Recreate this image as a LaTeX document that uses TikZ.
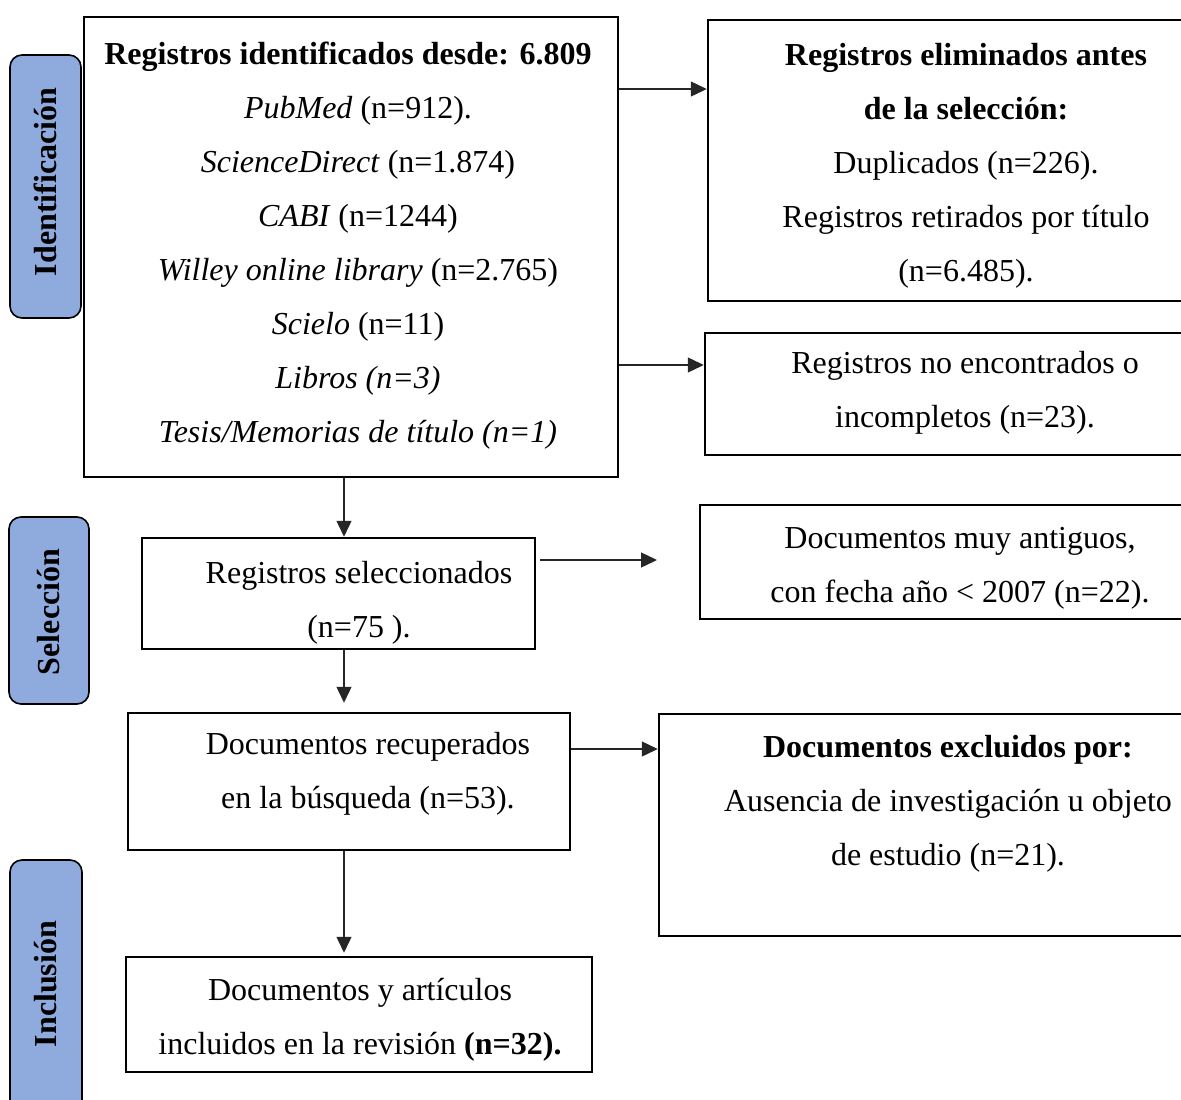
\documentclass[tikz,border=0pt]{standalone}
\usepackage{fontspec}
\setmainfont{Liberation Serif}
\usetikzlibrary{fit,arrows.meta}
\definecolor{sideblue}{HTML}{8FAADC}
\definecolor{arrowgray}{HTML}{262626}
\tikzset{
  boxnode/.style={draw=black, line width=2.5pt, inner sep=0pt, fill=white},
  sidenode/.style={draw=black, line width=1.6pt, rounded corners=12pt, fill=sideblue, inner sep=0pt},
  sidetext/.style={rotate=90, font=\fontsize{32}{38}\selectfont\bfseries},
  txt/.style={align=center, font=\fontsize{32}{54}\selectfont, inner sep=0pt},
  arr/.style={draw=arrowgray, line width=1.4pt, -{Triangle[length=16pt,width=15pt]}}
}
\begin{document}
\begin{tikzpicture}[x=1pt,y=-1pt]
\useasboundingbox (0,0) rectangle (1181,1100);
\clip (0,0) rectangle (1181,1100);
% side labels
\node[sidenode, fit={(10,55)(81,318)}] (s1) {};
\node[sidetext] (s1t) at (45.5,182) {Identificación};
\node[sidenode, fit={(9,517)(89,704)}] (s2) {};
\node[sidetext] (s2t) at (49,612) {Selección};
\node[sidenode, fit={(10,860)(82,1112)}] (s3) {};
\node[sidetext] (s3t) at (46,984) {Inclusión};
% boxes
\node[boxnode, fit={(84,17)(618,477)}] (b1) {};
\node[boxnode, fit={(708,20)(1195,301)}] (b2) {};
\node[boxnode, fit={(705,333)(1195,455)}] (b3) {};
\node[boxnode, fit={(142,538)(535,649)}] (b4) {};
\node[boxnode, fit={(700,505)(1195,619)}] (b5) {};
\node[boxnode, fit={(128,713)(570,850)}] (b6) {};
\node[boxnode, fit={(659,714)(1195,936)}] (b7) {};
\node[boxnode, fit={(126,957)(592,1072)}] (b8) {};
% texts
\node[txt] (t1) at (358,246) {\hspace*{-20pt}\textbf{Registros identificados desde: 6.809}\\
\textit{PubMed} (n=912).\\
\textit{ScienceDirect} (n=1.874)\\
\textit{CABI} (n=1244)\\
\textit{Willey online library} (n=2.765)\\
\textit{Scielo} (n=11)\\
\textit{Libros (n=3)}\\
\textit{Tesis/Memorias de título (n=1)}};
\node[txt] (t2) at (966,166) {\textbf{Registros eliminados antes}\\
\textbf{de la selección:}\\
Duplicados (n=226).\\
Registros retirados por título\\
(n=6.485).};
\node[txt] (t3) at (965,393) {Registros no encontrados o\\incompletos (n=23).};
\node[txt] (t4) at (359,603) {Registros seleccionados\\(n=75 ).};
\node[txt] (t5) at (960,568) {Documentos muy antiguos,\\con fecha año < 2007 (n=22).};
\node[txt] (t6) at (368,774) {Documentos recuperados\\en la búsqueda (n=53).};
\node[txt] (t7) at (948,804) {\textbf{Documentos excluidos por:}\\
Ausencia de investigación u objeto\\
de estudio (n=21).};
\node[txt] (t8) at (360,1020) {Documentos y artículos\\incluidos en la revisión \textbf{(n=32).}};
% arrow guide coordinates
\coordinate (y1) at (0,89);
\coordinate (y2) at (0,365);
\coordinate (y6) at (0,749);
\coordinate (xv) at (344,0);
\coordinate (a4s) at (540,560);
\coordinate (a4e) at (657,560);
% arrows
\draw[arr] (b1.east |- y1) -- (b2.west |- y1);
\draw[arr] (b1.east |- y2) -- (b3.west |- y2);
\draw[arr] (b1.south -| xv) -- (b4.north -| xv);
\draw[arr] (a4s) -- (a4e);
\draw[arr, shorten >=9pt] (b4.south -| xv) -- (b6.north -| xv);
\draw[arr] (b6.east |- y6) -- (b7.west |- y6);
\draw[arr, shorten >=3pt] (b6.south -| xv) -- (b8.north -| xv);
\end{tikzpicture}
\end{document}
